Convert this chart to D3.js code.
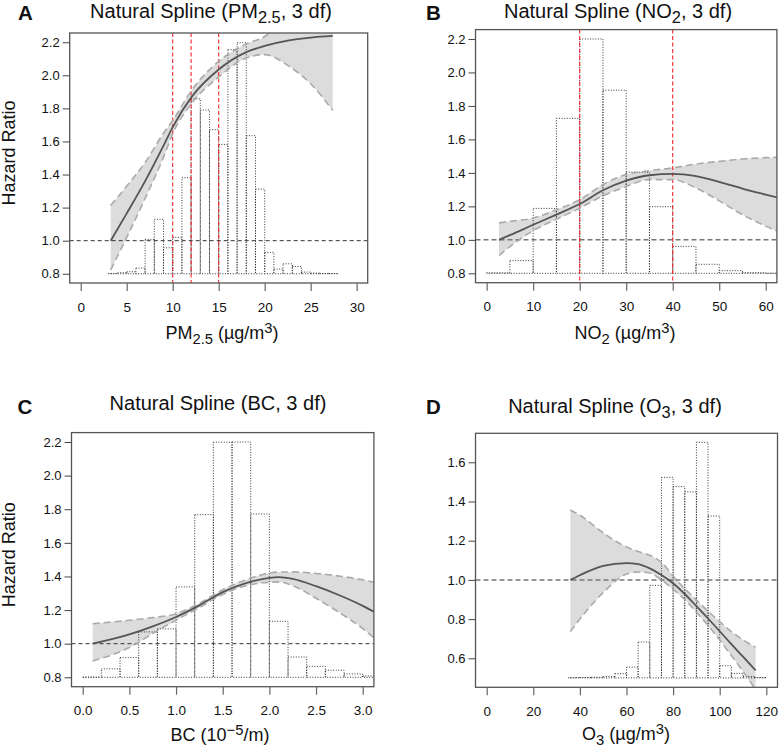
<!DOCTYPE html>
<html>
<head>
<meta charset="utf-8">
<script src="https://cdn.jsdelivr.net/npm/d3@7/dist/d3.min.js"></script>
<style>
  body { margin: 0; background: #fff; }
  text { font-family: "Liberation Sans", Arial, Helvetica, sans-serif; fill: #111; }
</style>
</head>
<body>
<svg id="fig" width="780" height="748"></svg>
<script>
// ---------------- data ----------------
var hr_ticks = [0.8, 1.0, 1.2, 1.4, 1.6, 1.8, 2.0, 2.2];
var o3_yticks = [0.6, 0.8, 1.0, 1.2, 1.4, 1.6];

// A: PM2.5
var pm_xticks = [0, 5, 10, 15, 20, 25, 30];
var pm_bins = [3, 4, 5, 6, 7, 8, 9, 10, 11, 12, 13, 14, 15, 16, 17, 18, 19, 20, 21, 22, 23, 24, 25, 26, 27];
var pm_hist = [0.801, 0.806, 0.812, 0.834, 1.008, 1.129, 0.957, 1.02, 1.381, 1.858, 1.79, 1.671, 1.582,
               2.155, 2.197, 1.635, 1.312, 0.929, 0.828, 0.86, 0.844, 0.81, 0.804, 0.802, 0.801];
var pm_x     = [3.26, 5, 7, 9, 10, 12, 15, 18, 20, 22.5, 25, 27.4];
var pm_fit   = [1.0, 1.165, 1.36, 1.575, 1.687, 1.865, 2.035, 2.14, 2.178, 2.21, 2.228, 2.238];
var pm_upper = [1.213, 1.33, 1.473, 1.65, 1.727, 1.905, 2.085, 2.19, 2.235, 2.37, 2.55, 2.80];
var pm_lower = [0.824, 1.02, 1.256, 1.505, 1.647, 1.826, 1.99, 2.105, 2.125, 2.06, 1.949, 1.788];
var pm_cuts  = [10, 12, 15];

// B: NO2
var no2_xticks = [0, 10, 20, 30, 40, 50, 60];
var no2_bins = [0, 5, 10, 15, 20, 25, 30, 35, 40, 45, 50, 55, 60];
var no2_hist = [0.803, 0.876, 1.188, 1.726, 2.2, 1.894, 1.404, 1.198, 0.961, 0.854, 0.816, 0.804, 0.801];
var no2_x     = [2.65, 5, 10, 15, 20, 25, 30, 35, 40, 45, 50, 55, 60, 62.4];
var no2_fit   = [1.0, 1.028, 1.09, 1.151, 1.214, 1.296, 1.354, 1.386, 1.394, 1.38, 1.346, 1.306, 1.27, 1.253];
var no2_upper = [1.101, 1.111, 1.13, 1.18, 1.24, 1.33, 1.39, 1.413, 1.43, 1.453, 1.469, 1.483, 1.491, 1.493];
var no2_lower = [0.906, 0.96, 1.055, 1.123, 1.189, 1.263, 1.319, 1.36, 1.36, 1.31, 1.233, 1.15, 1.082, 1.053];
var no2_cuts  = [20, 40];

// C: BC
var bc_xticks = [0.0, 0.5, 1.0, 1.5, 2.0, 2.5, 3.0];
var bc_bins = [0.0, 0.2, 0.4, 0.6, 0.8, 1.0, 1.2, 1.4, 1.6, 1.8, 2.0, 2.2, 2.4, 2.6, 2.8, 3.0];
var bc_hist = [0.801, 0.85, 0.917, 1.07, 1.088, 1.338, 1.768, 2.199, 2.2, 1.772, 1.133, 0.921, 0.865, 0.842, 0.82, 0.808];
var bc_x     = [0.107, 0.5, 0.75, 1.0, 1.25, 1.5, 1.75, 2.0, 2.1, 2.25, 2.5, 2.75, 3.0, 3.12];
var bc_fit   = [1.0, 1.055, 1.103, 1.159, 1.228, 1.307, 1.36, 1.392, 1.396, 1.385, 1.342, 1.288, 1.225, 1.19];
var bc_upper = [1.119, 1.139, 1.155, 1.178, 1.24, 1.321, 1.38, 1.42, 1.426, 1.427, 1.418, 1.402, 1.38, 1.365];
var bc_lower = [0.897, 0.977, 1.06, 1.14, 1.215, 1.293, 1.345, 1.365, 1.368, 1.345, 1.27, 1.185, 1.09, 1.035];

// D: O3
var o3_xticks = [0, 20, 40, 60, 80, 100, 120];
var o3_bins = [35, 40, 45, 50, 55, 60, 65, 70, 75, 80, 85, 90, 95, 100, 105, 110, 115];
var o3_hist = [0.501, 0.502, 0.503, 0.507, 0.522, 0.555, 0.683, 0.972, 1.523, 1.476, 1.449, 1.702, 1.326,
               0.562, 0.523, 0.507, 0.502];
var o3_x     = [35.9, 40, 50, 60, 65, 70, 75, 80, 85, 90, 95, 100, 105, 110, 115.4];
var o3_fit   = [1.0, 1.024, 1.071, 1.086, 1.081, 1.059, 1.025, 0.983, 0.928, 0.866, 0.803, 0.738, 0.672, 0.608, 0.538];
var o3_upper = [1.357, 1.33, 1.24, 1.168, 1.145, 1.125, 1.09, 1.02, 0.955, 0.898, 0.84, 0.787, 0.736, 0.694, 0.656];
var o3_lower = [0.736, 0.80, 0.935, 1.03, 1.04, 1.035, 1.0, 0.952, 0.90, 0.835, 0.768, 0.693, 0.614, 0.533, 0.441];

// ---------------- drawing ----------------
var svg = d3.select("#fig");

// R style axis range: 4% padding on both ends
function ext(lim) {
    var d = lim[1] - lim[0];
    return [lim[0] - 0.04 * d, lim[1] + 0.04 * d];
}

// text with sub / superscript pieces
function richText(sel, parts, size) {
    var shift = 0;
    parts.forEach(function(p) {
        var t = sel.append("tspan").text(p.t);
        var target = 0;
        if (p.sub) target = size * 0.26;
        if (p.sup) target = -size * 0.36;
        if (p.sub || p.sup) t.style("font-size", (size * 0.82) + "px");
        if (target != shift) t.attr("dy", target - shift);
        shift = target;
    });
}

var panels = [
    { id: "A", box: {left: 69.7, right: 367.7, top: 33, bottom: 283},
      xlim: [0, 30], ylim: [0.8, 2.2], binw: 1, bins: pm_bins, hist: pm_hist,
      cx: pm_x, fit: pm_fit, up: pm_upper, lo: pm_lower, cuts: pm_cuts,
      xticks: pm_xticks, yticks: hr_ticks, xfmt: d3.format("d"), base: 0.8,
      refStyle: {c: "#333", w: 1, dash: "4,3"},
      title: [{t: "Natural Spline (PM"}, {t: "2.5", sub: true}, {t: ", 3 df)"}], titleX: 211, titleY: 17.5,
      letterX: 18, letterY: 19.5,
      xlab: [{t: "PM"}, {t: "2.5", sub: true}, {t: " (\u00b5g/m"}, {t: "3", sup: true}, {t: ")"}], xlabX: 222, xlabY: 339,
      ylab: true },
    { id: "B", box: {left: 475.5, right: 776.9, top: 29.6, bottom: 282.7},
      xlim: [0, 60], ylim: [0.8, 2.2], binw: 5, bins: no2_bins, hist: no2_hist,
      cx: no2_x, fit: no2_fit, up: no2_upper, lo: no2_lower, cuts: no2_cuts,
      xticks: no2_xticks, yticks: hr_ticks, xfmt: d3.format("d"), base: 0.8,
      refStyle: {c: "#777", w: 1.5, dash: "5,3"},
      title: [{t: "Natural Spline (NO"}, {t: "2", sub: true}, {t: ", 3 df)"}], titleX: 618, titleY: 17.5,
      letterX: 426, letterY: 20,
      xlab: [{t: "NO"}, {t: "2", sub: true}, {t: " (\u00b5g/m"}, {t: "3", sup: true}, {t: ")"}], xlabX: 625, xlabY: 339,
      ylab: false },
    { id: "C", box: {left: 71.5, right: 373.9, top: 432.6, bottom: 686.7},
      xlim: [0, 3], ylim: [0.8, 2.2], binw: 0.2, bins: bc_bins, hist: bc_hist,
      cx: bc_x, fit: bc_fit, up: bc_upper, lo: bc_lower, cuts: [],
      xticks: bc_xticks, yticks: hr_ticks, xfmt: d3.format(".1f"), base: 0.8,
      refStyle: {c: "#333", w: 1, dash: "4,3"},
      title: [{t: "Natural Spline (BC, 3 df)"}], titleX: 218, titleY: 410,
      letterX: 17.5, letterY: 414,
      xlab: [{t: "BC (10"}, {t: "\u22125", sup: true}, {t: "/m)"}], xlabX: 220, xlabY: 741,
      ylab: true },
    { id: "D", box: {left: 475.5, right: 777.5, top: 433.3, bottom: 687.3},
      xlim: [0, 120], ylim: [0.5, 1.7], binw: 5, bins: o3_bins, hist: o3_hist,
      cx: o3_x, fit: o3_fit, up: o3_upper, lo: o3_lower, cuts: [],
      xticks: o3_xticks, yticks: o3_yticks, xfmt: d3.format("d"), base: 0.5,
      refStyle: {c: "#777", w: 1.5, dash: "5,3"},
      title: [{t: "Natural Spline (O"}, {t: "3", sub: true}, {t: ", 3 df)"}], titleX: 615, titleY: 413,
      letterX: 426, letterY: 413.5,
      xlab: [{t: "O"}, {t: "3", sub: true}, {t: " (\u00b5g/m"}, {t: "3", sup: true}, {t: ")"}], xlabX: 626, xlabY: 740,
      ylab: false }
];

panels.forEach(drawPanel);

function drawPanel(p) {
    var b = p.box;
    var x = d3.scaleLinear().domain(ext(p.xlim)).range([b.left, b.right]);
    var y = d3.scaleLinear().domain(ext(p.ylim)).range([b.bottom, b.top]);

    svg.append("clipPath").attr("id", "clip" + p.id)
       .append("rect")
       .attr("x", b.left).attr("y", b.top)
       .attr("width", b.right - b.left).attr("height", b.bottom - b.top);

    var g = svg.append("g").attr("clip-path", "url(#clip" + p.id + ")");

    var rows = p.cx.map(function(v, i) {
        return {x: v, fit: p.fit[i], up: p.up[i], lo: p.lo[i]};
    });

    // confidence band
    var band = d3.area()
        .x(function(d) { return x(d.x); })
        .y0(function(d) { return y(d.lo); })
        .y1(function(d) { return y(d.up); })
        .curve(d3.curveMonotoneX);
    g.append("path").datum(rows)
        .attr("d", band)
        .attr("fill", "#dcdcdc");

    // exposure histogram (dotted outlines)
    g.selectAll(".bar").data(p.bins).enter().append("rect")
        .attr("class", "bar")
        .attr("x", function(d) { return x(d); })
        .attr("width", function(d) { return x(d + p.binw) - x(d); })
        .attr("y", function(d, i) { return y(p.hist[i]); })
        .attr("height", function(d, i) { return y(p.base) - y(p.hist[i]); })
        .attr("fill", "none")
        .attr("stroke", "#222")
        .attr("stroke-width", 0.9)
        .attr("stroke-dasharray", "1,1.6");

    // reference line HR = 1
    g.append("line")
        .attr("x1", b.left).attr("x2", b.right)
        .attr("y1", y(1)).attr("y2", y(1))
        .attr("stroke", p.refStyle.c)
        .attr("stroke-width", p.refStyle.w)
        .attr("stroke-dasharray", p.refStyle.dash);

    // cut-off lines
    g.selectAll(".cut").data(p.cuts).enter().append("line")
        .attr("class", "cut")
        .attr("x1", function(d) { return x(d); }).attr("x2", function(d) { return x(d); })
        .attr("y1", b.top).attr("y2", b.bottom)
        .attr("stroke", "#f0242a")
        .attr("stroke-width", 1.1)
        .attr("stroke-dasharray", "4,2.5");

    // CI borders
    ["up", "lo"].forEach(function(k) {
        var ln = d3.line()
            .x(function(d) { return x(d.x); })
            .y(function(d) { return y(d[k]); })
            .curve(d3.curveMonotoneX);
        g.append("path").datum(rows)
            .attr("d", ln)
            .attr("fill", "none")
            .attr("stroke", "#aaaaaa")
            .attr("stroke-width", 1.6)
            .attr("stroke-dasharray", "7,4");
    });

    // spline fit
    var fitLine = d3.line()
        .x(function(d) { return x(d.x); })
        .y(function(d) { return y(d.fit); })
        .curve(d3.curveMonotoneX);
    g.append("path").datum(rows)
        .attr("d", fitLine)
        .attr("fill", "none")
        .attr("stroke", "#555")
        .attr("stroke-width", 1.8);

    // box
    svg.append("rect")
        .attr("x", b.left).attr("y", b.top)
        .attr("width", b.right - b.left).attr("height", b.bottom - b.top)
        .attr("fill", "none")
        .attr("stroke", "#555")
        .attr("stroke-width", 1.3);

    // axes
    var ya = svg.append("g")
        .attr("transform", "translate(" + b.left + ",0)")
        .call(d3.axisLeft(y).tickValues(p.yticks).tickSize(7).tickPadding(3).tickFormat(d3.format(".1f")));
    ya.select(".domain").remove();
    ya.selectAll(".tick line").attr("stroke", "#444");
    ya.selectAll(".tick text").style("font-size", "13px").style("font-family", null).attr("fill", "#111");

    var xa = svg.append("g")
        .attr("transform", "translate(0," + b.bottom + ")")
        .call(d3.axisBottom(x).tickValues(p.xticks).tickSize(8).tickPadding(11).tickFormat(p.xfmt));
    xa.select(".domain").remove();
    xa.selectAll(".tick line").attr("stroke", "#666").attr("stroke-width", 1.2);
    xa.selectAll(".tick text").style("font-size", "13.5px").style("font-family", null).attr("fill", "#111");

    // title, panel letter, axis labels
    var tt = svg.append("text")
        .attr("x", p.titleX).attr("y", p.titleY)
        .attr("text-anchor", "middle")
        .style("font-size", "20px");
    richText(tt, p.title, 20);

    svg.append("text")
        .attr("x", p.letterX).attr("y", p.letterY)
        .style("font-size", "20.5px").style("font-weight", "bold")
        .text(p.id);

    var xl = svg.append("text")
        .attr("x", p.xlabX).attr("y", p.xlabY)
        .attr("text-anchor", "middle")
        .style("font-size", "18px");
    richText(xl, p.xlab, 18);

    if (p.ylab) {
        svg.append("text")
            .attr("transform", "translate(15," + ((b.top + b.bottom) / 2 - 5) + ") rotate(-90)")
            .attr("text-anchor", "middle")
            .style("font-size", "18px")
            .text("Hazard Ratio");
    }
}
</script>
</body>
</html>
